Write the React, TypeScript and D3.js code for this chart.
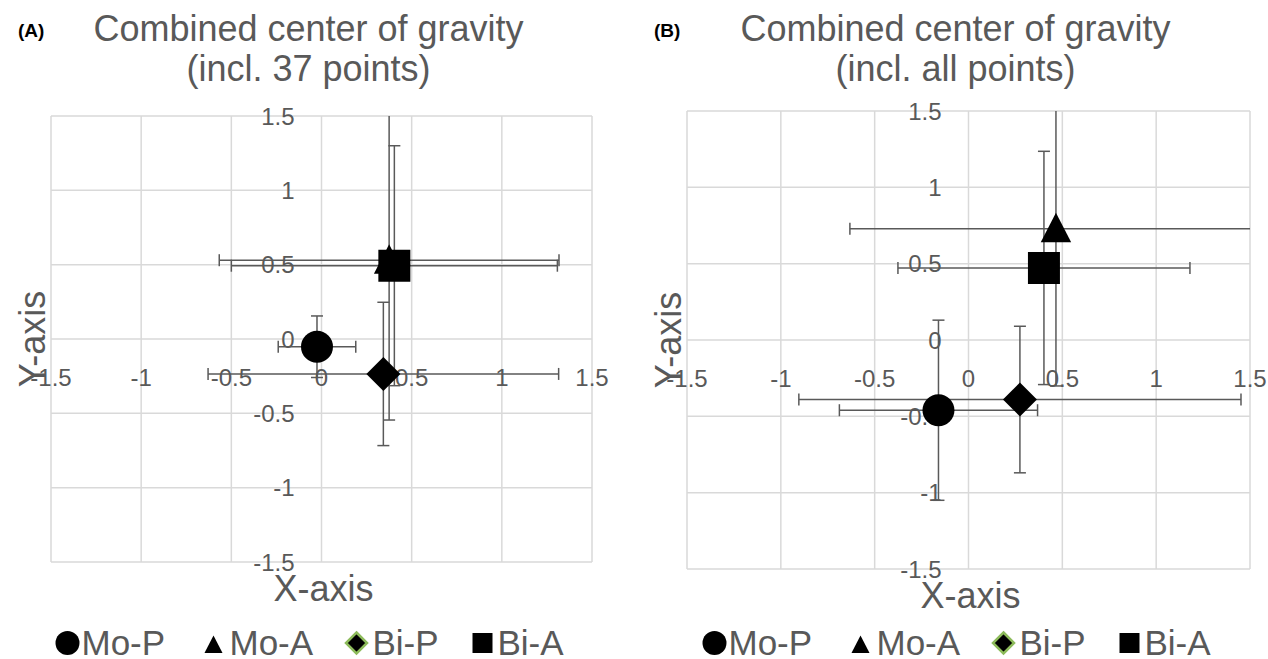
import React from 'react';
import * as d3 from 'd3';

// ---- data ----
const categories = ['Mo-P', 'Mo-A', 'Bi-P', 'Bi-A'];
const shapes = ['circle', 'triangle', 'diamond', 'square'];
const tickValues = [-1.5, -1, -0.5, 0, 0.5, 1, 1.5];
const tickLabels = ['-1.5', '-1', '-0.5', '0', '0.5', '1', '1.5'];

// Panel A: incl. 37 points
const aX = [-0.025, 0.375, 0.343, 0.404];
const aY = [-0.052, 0.53, -0.235, 0.493];
const aXErr = [0.215, 0.942, 0.972, 0.904];
const aYErr = [0.207, 1.075, 0.482, 0.807];

// Panel B: incl. all points
const bX = [-0.16, 0.466, 0.274, 0.402];
const bY = [-0.46, 0.729, -0.39, 0.472];
const bXErr = [0.528, 1.098, 1.178, 0.778];
const bYErr = [0.59, 1.03, 0.48, 0.764];

const FONT = '"Liberation Sans", Arial, sans-serif';
const GRAY = '#595959';
const GRID = '#d9d9d9';
const ERR = '#595959';

function markerPath(shape: string, cx: number, cy: number, s: number): string {
  const h = s / 2;
  if (shape === 'square') return `M${cx - h},${cy - h}h${s}v${s}h${-s}Z`;
  if (shape === 'diamond') return `M${cx},${cy - h - 1}L${cx + h + 1},${cy}L${cx},${cy + h + 1}L${cx - h - 1},${cy}Z`;
  if (shape === 'triangle') return `M${cx},${cy - h}L${cx + h * 0.95},${cy + h * 0.85}L${cx - h * 0.95},${cy + h * 0.85}Z`;
  const p = d3.path();
  p.arc(cx, cy, h, 0, Math.PI * 2);
  return p.toString();
}

interface PanelProps {
  id: string;
  tag: string;
  title1: string;
  title2: string;
  box: { x0: number; x1: number; y0: number; y1: number };
  xs: number[];
  ys: number[];
  xe: number[];
  ye: number[];
}

function Panel({ id, tag, title1, title2, box, xs, ys, xe, ye }: PanelProps) {
  const x = d3.scaleLinear().domain([-1.5, 1.5]).range([box.x0, box.x1]);
  const y = d3.scaleLinear().domain([-1.5, 1.5]).range([box.y1, box.y0]);
  const cx = (box.x0 + box.x1) / 2;
  const cy = (box.y0 + box.y1) / 2;
  const cap = 6;
  const legendCenter = cx - 8;
  const legendMarkerOffsets = [-246, -100, 43, 169];
  const legendTextGap = [14, 16, 16, 15];
  const legendSizes = [24, 19, 19, 20];
  return (
    <g>
      <text x={box.x0 - 33} y={37} fontFamily={FONT} fontWeight="bold" fontSize={19} fill="#000">{tag}</text>
      <text x={cx - 13} y={41} textAnchor="middle" fontFamily={FONT} fontSize={36} fill={GRAY}>{title1}</text>
      <text x={cx - 13} y={81} textAnchor="middle" fontFamily={FONT} fontSize={36} fill={GRAY}>{title2}</text>
      <defs>
        <clipPath id={`clip-${id}`}>
          <rect x={box.x0} y={box.y0} width={box.x1 - box.x0} height={box.y1 - box.y0} />
        </clipPath>
      </defs>
      {/* gridlines */}
      {tickValues.map((t, i) => (
        <line key={`gx${i}`} x1={x(t)} x2={x(t)} y1={box.y0} y2={box.y1} stroke={GRID} strokeWidth={1.5} />
      ))}
      {tickValues.map((t, i) => (
        <line key={`gy${i}`} x1={box.x0} x2={box.x1} y1={y(t)} y2={y(t)} stroke={GRID} strokeWidth={1.5} />
      ))}
      {/* tick labels */}
      {tickValues.map((t, i) => (
        <text key={`ty${i}`} x={x(0) - 27} y={y(t) + 8.5} textAnchor="end" fontFamily={FONT} fontSize={24} fill={GRAY}>{tickLabels[i]}</text>
      ))}
      {tickValues.map((t, i) => (
        <text key={`tx${i}`} x={x(t)} y={y(0) + 46.5} textAnchor="middle" fontFamily={FONT} fontSize={24} fill={GRAY}>{tickLabels[i]}</text>
      ))}
      {/* error bars */}
      <g clipPath={`url(#clip-${id})`} stroke={ERR} strokeWidth={1.5} fill="none">
        {categories.map((c, i) => {
          const px = x(xs[i]);
          const py = y(ys[i]);
          const xl = x(xs[i] - xe[i]);
          const xr = x(xs[i] + xe[i]);
          const yt = y(ys[i] + ye[i]);
          const yb = y(ys[i] - ye[i]);
          return (
            <g key={`e${c}`}>
              <line x1={xl} x2={xr} y1={py} y2={py} />
              <line x1={xl} x2={xl} y1={py - cap} y2={py + cap} />
              <line x1={xr} x2={xr} y1={py - cap} y2={py + cap} />
              <line x1={px} x2={px} y1={yt} y2={yb} />
              <line x1={px - cap} x2={px + cap} y1={yt} y2={yt} />
              <line x1={px - cap} x2={px + cap} y1={yb} y2={yb} />
            </g>
          );
        })}
      </g>
      {/* markers */}
      {categories.map((c, i) => (
        <path key={`m${c}`} d={markerPath(shapes[i], x(xs[i]), y(ys[i]), 32)} fill="#000" />
      ))}
      {/* axis titles */}
      <text x={cx + 2} y={box.y1 + 39} textAnchor="middle" fontFamily={FONT} fontSize={36} fill={GRAY}>X-axis</text>
      <text transform={`translate(${box.x0 - 6},${cy}) rotate(-90)`} textAnchor="middle" fontFamily={FONT} fontSize={36} fill={GRAY}>Y-axis</text>
      {/* legend */}
      {categories.map((c, i) => {
        const mx = legendCenter + legendMarkerOffsets[i];
        const my = 643;
        return (
          <g key={`l${c}`}>
            <path
              d={markerPath(shapes[i], mx, my + (shapes[i] === 'triangle' ? 2 : 0), legendSizes[i])}
              fill="#000"
              stroke={shapes[i] === 'diamond' ? '#8dbb5b' : 'none'}
              strokeWidth={shapes[i] === 'diamond' ? 2.5 : 0}
            />
            <text x={mx + legendTextGap[i]} y={655} fontFamily={FONT} fontSize={35} fill={GRAY}>{c}</text>
          </g>
        );
      })}
    </g>
  );
}

export default function App() {
  return (
    <svg width={1268} height={659} style={{ position: 'absolute', left: 0, top: 0, background: '#fff' }}>
      <rect x={0} y={0} width={1268} height={659} fill="#fff" />
      <Panel id="a" tag="(A)" title1="Combined center of gravity" title2="(incl. 37 points)"
        box={{ x0: 51, x1: 592, y0: 116, y1: 562 }} xs={aX} ys={aY} xe={aXErr} ye={aYErr} />
      <Panel id="b" tag="(B)" title1="Combined center of gravity" title2="(incl. all points)"
        box={{ x0: 687, x1: 1250, y0: 111, y1: 569 }} xs={bX} ys={bY} xe={bXErr} ye={bYErr} />
    </svg>
  );
}
